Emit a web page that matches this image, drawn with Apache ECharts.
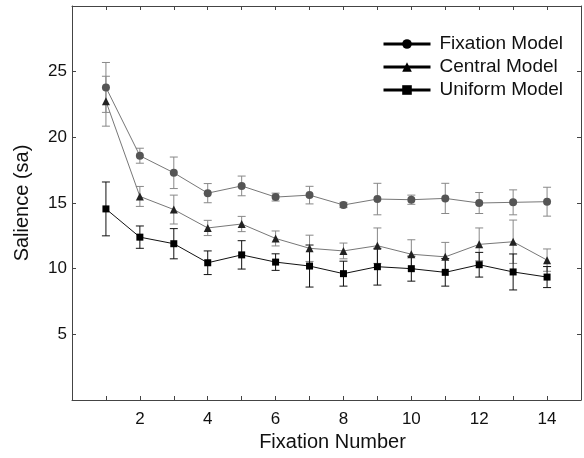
<!DOCTYPE html>
<html>
<head>
<meta charset="utf-8">
<script src="https://cdn.jsdelivr.net/npm/echarts@6/dist/echarts.min.js"></script>
<style>
html,body{margin:0;padding:0;background:#fff;}
#main{width:584px;height:458px;}
</style>
</head>
<body>
<div id="main"></div>
<script>
// fixation number 1..14
const fixations = [1,2,3,4,5,6,7,8,9,10,11,12,13,14];

const fixationMean = [23.8,18.6,17.3,15.75,16.3,15.45,15.6,14.85,15.3,15.25,15.35,15.0,15.05,15.1];
const fixationErr  = [1.9,0.57,1.2,0.73,0.75,0.3,0.67,0.2,1.2,0.35,1.15,0.8,0.95,1.1];

const centralMean = [22.75,15.5,14.5,13.1,13.4,12.3,11.55,11.35,11.75,11.1,10.9,11.85,12.05,10.65];
const centralErr  = [1.9,0.76,1.1,0.58,0.58,0.57,1.0,0.6,1.35,1.1,1.1,1.25,1.65,0.85];

const uniformMean = [14.55,12.4,11.9,10.45,11.05,10.5,10.2,9.62,10.15,10.0,9.72,10.3,9.75,9.36];
const uniformErr  = [2.05,0.85,1.15,0.9,1.08,0.63,1.6,0.95,1.4,0.95,1.05,0.94,1.37,0.8];

const names = ['Fixation Model','Central Model','Uniform Model'];

const font = 'Liberation Sans, Arial, sans-serif';

function pairs(mean){
    return mean.map((v,i) => [fixations[i], v]);
}
function errData(mean, err){
    return mean.map((v,i) => [fixations[i], v, err[i]]);
}
function errSeries(name, mean, err, color){
    return {
        name: name,
        type: 'custom',
        z: 1,
        silent: true,
        data: errData(mean, err),
        renderItem(params, api){
            const x = api.value(0), y = api.value(1), e = api.value(2);
            const top = api.coord([x, y + e]);
            const bot = api.coord([x, y - e]);
            const w = 4;
            const st = {stroke: color, lineWidth: 1};
            return {
                type: 'group',
                children: [
                    {type:'line', shape:{x1:top[0], y1:top[1], x2:bot[0], y2:bot[1]}, style:st},
                    {type:'line', shape:{x1:top[0]-w, y1:top[1], x2:top[0]+w, y2:top[1]}, style:st},
                    {type:'line', shape:{x1:bot[0]-w, y1:bot[1], x2:bot[0]+w, y2:bot[1]}, style:st}
                ]
            };
        }
    };
}

const axisLine = {show:true, onZero:false, lineStyle:{color:'#444', width:1}};
const axisTick = {show:true, inside:true, length:4, lineStyle:{color:'#444'}};

const chart = echarts.init(document.getElementById('main'));
chart.setOption({
    animation: false,
    backgroundColor: '#fff',
    textStyle: {fontFamily: font},
    grid: {left:72, right:2, top:6, bottom:58},
    legend: {
        orient: 'vertical',
        left: 377,
        top: 29,
        itemWidth: 47,
        itemHeight: 12,
        itemGap: 3,
        data: names,
        lineStyle: {color:'#000', width:3},
        itemStyle: {color:'#000'},
        textStyle: {fontSize:19, color:'#111', lineHeight:20, padding:[0,0,0,4], fontFamily:font}
    },
    xAxis: [{
        type: 'value',
        min: 0, max: 15, interval: 1,
        name: 'Fixation Number',
        nameLocation: 'middle',
        nameGap: 32,
        nameTextStyle: {fontSize:20, color:'#111', fontFamily:font, padding:[0,0,0,12]},
        axisLine: axisLine,
        axisTick: axisTick,
        axisLabel: {
            fontSize: 17, color:'#111', margin: 11,
            formatter: v => (v > 0 && v < 15 && v % 2 === 0) ? String(v) : ''
        },
        splitLine: {show:false}
    },{
        type: 'value',
        position: 'top',
        min: 0, max: 15, interval: 1,
        axisLine: axisLine,
        axisTick: axisTick,
        axisLabel: {show:false},
        splitLine: {show:false}
    }],
    yAxis: [{
        type: 'value',
        min: 0, max: 30, interval: 5,
        name: 'Salience (sa)',
        nameLocation: 'middle',
        nameGap: 40,
        nameTextStyle: {fontSize:20, color:'#111', fontFamily:font},
        axisLine: axisLine,
        axisTick: axisTick,
        axisLabel: {
            fontSize: 17, color:'#111', margin: 5,
            formatter: v => (v > 0 && v < 30) ? String(v) : ''
        },
        splitLine: {show:false}
    },{
        type: 'value',
        position: 'right',
        min: 0, max: 30, interval: 5,
        axisLine: axisLine,
        axisTick: axisTick,
        axisLabel: {show:false},
        splitLine: {show:false}
    }],
    series: [
        errSeries('fixErr', fixationMean, fixationErr, '#888'),
        errSeries('cenErr', centralMean, centralErr, '#888'),
        errSeries('uniErr', uniformMean, uniformErr, '#111'),
        {
            name: names[0], type:'line', z:3,
            data: pairs(fixationMean),
            symbol: 'circle', symbolSize: 8,
            lineStyle: {color:'#777', width:1},
            itemStyle: {color:'#555'}
        },
        {
            name: names[1], type:'line', z:3,
            data: pairs(centralMean),
            symbol: 'triangle', symbolSize: 8,
            lineStyle: {color:'#777', width:1},
            itemStyle: {color:'#222'}
        },
        {
            name: names[2], type:'line', z:3,
            data: pairs(uniformMean),
            symbol: 'rect', symbolSize: 7,
            lineStyle: {color:'#111', width:1},
            itemStyle: {color:'#000'}
        }
    ]
});
</script>
</body>
</html>
